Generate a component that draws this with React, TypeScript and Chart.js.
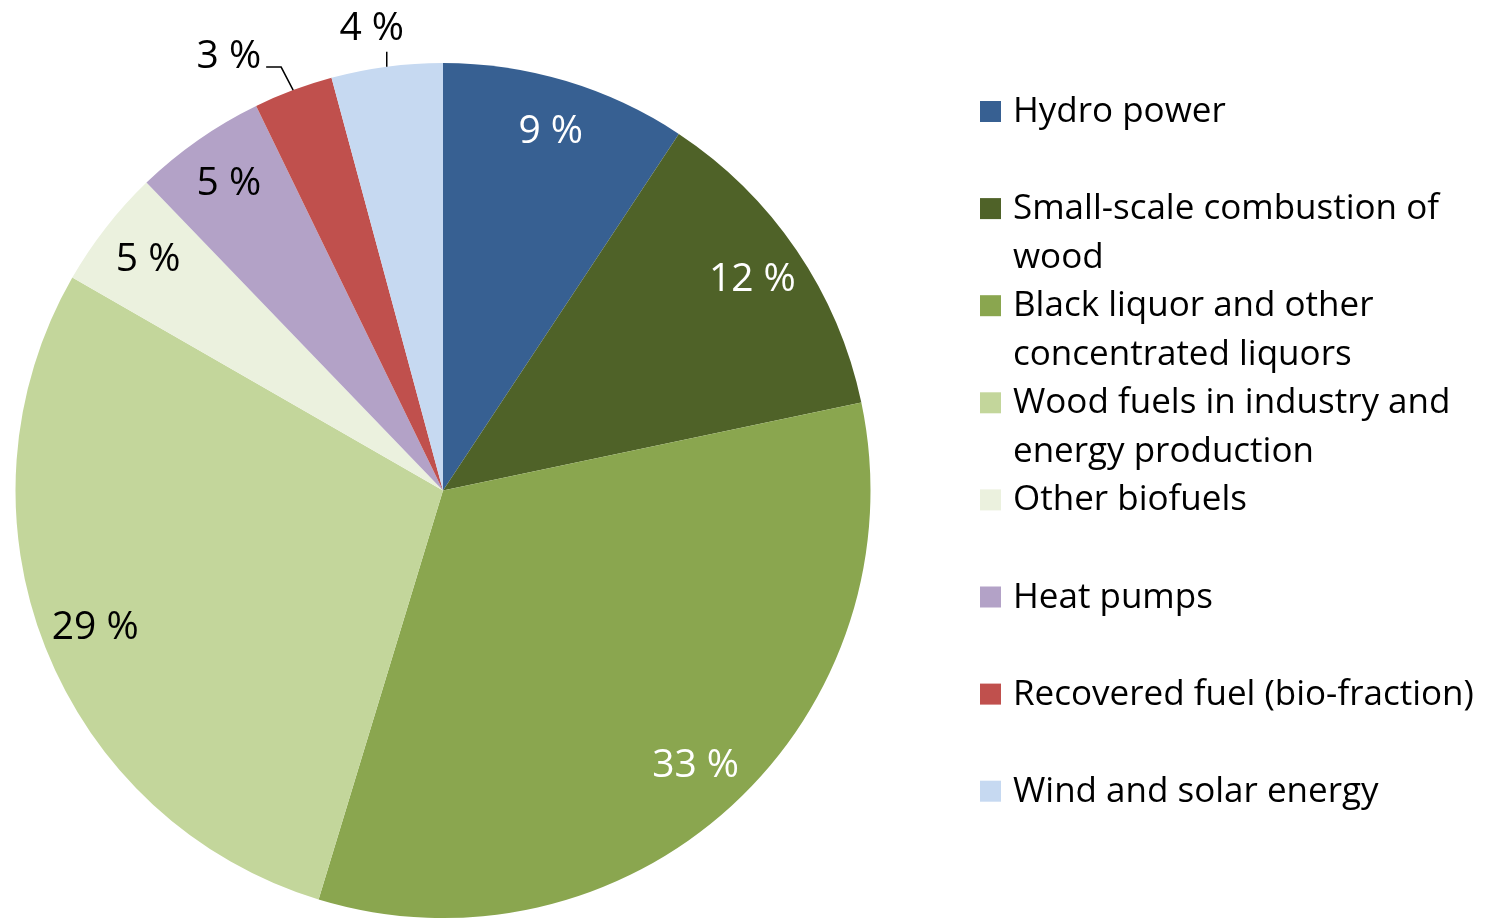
import React, { useEffect, useRef } from "react";
import { Chart, registerables } from "chart.js";

Chart.register(...registerables);

const categories: string[][] = [
  ["Hydro power"],
  ["Small-scale combustion of", "wood"],
  ["Black liquor and other", "concentrated liquors"],
  ["Wood fuels in industry and", "energy production"],
  ["Other biofuels"],
  ["Heat pumps"],
  ["Recovered fuel (bio-fraction)"],
  ["Wind and solar energy"],
];

const shares: number[] = [9.3, 12.4, 33.0, 28.6, 4.5, 5.0, 3.0, 4.2];

const sliceColors: string[] = [
  "#376092",
  "#4F6228",
  "#8AA64F",
  "#C3D69B",
  "#EBF1DE",
  "#B3A2C7",
  "#C0504D",
  "#C6D9F1",
];

const labelColors: string[] = ["#FFFFFF", "#FFFFFF", "#FFFFFF", "#000000", "#000000", "#000000", "#000000", "#000000"];

// Outside label styling (offsets relative to the arc's outer edge point)
const outsideLabels: Record<number, { elbow: [number, number]; end: [number, number]; text: [number, number]; align: CanvasTextAlign }> = {
  6: { elbow: [-12, -23], end: [-27, -23], text: [-32, -22], align: "right" },
  7: { elbow: [0, -15], end: [0, -15], text: [-15, -27], align: "center" },
};

const FONT = "'Open Sans', Lato, sans-serif";

const labelPlugin = {
  id: "sliceLabels",
  afterDatasetsDraw(chart: any) {
    const ctx = chart.ctx as CanvasRenderingContext2D;
    const meta = chart.getDatasetMeta(0);
    ctx.save();
    ctx.font = `39px ${FONT}`;
    meta.data.forEach((arc: any, i: number) => {
      const { x, y, startAngle, endAngle, outerRadius } = arc.getProps(
        ["x", "y", "startAngle", "endAngle", "outerRadius"],
        true
      );
      const mid = (startAngle + endAngle) / 2;
      const text = `${Math.round(shares[i])} %`;
      const out = outsideLabels[i];
      if (out) {
        const ex = x + Math.cos(mid) * outerRadius;
        const ey = y + Math.sin(mid) * outerRadius;
        ctx.strokeStyle = "#000000";
        ctx.lineWidth = 1.5;
        ctx.beginPath();
        ctx.moveTo(ex, ey);
        ctx.lineTo(ex + out.elbow[0], ey + out.elbow[1]);
        ctx.lineTo(ex + out.end[0], ey + out.end[1]);
        ctx.stroke();
        ctx.fillStyle = labelColors[i];
        ctx.textAlign = out.align;
        ctx.textBaseline = "alphabetic";
        ctx.fillText(text, ex + out.text[0], ey + out.text[1]);
      } else {
        const r = outerRadius * 0.875;
        ctx.fillStyle = labelColors[i];
        ctx.textAlign = "center";
        ctx.textBaseline = "middle";
        ctx.fillText(text, x + Math.cos(mid) * r, y + Math.sin(mid) * r);
      }
    });
    ctx.restore();
  },
};

const legendPlugin = {
  id: "sideLegend",
  afterDraw(chart: any) {
    const ctx = chart.ctx as CanvasRenderingContext2D;
    const area = chart.chartArea;
    const left = area.right + 109;
    const firstBaseline = 122;
    const step = 97.1;
    const lineH = 48.5;
    const box = 21;
    ctx.save();
    ctx.font = `35px ${FONT}`;
    ctx.textAlign = "left";
    ctx.textBaseline = "alphabetic";
    categories.forEach((lines, i) => {
      const base = firstBaseline + step * i;
      ctx.fillStyle = sliceColors[i];
      ctx.fillRect(left, base - box, box, box);
      ctx.fillStyle = "#000000";
      lines.forEach((ln, j) => {
        ctx.fillText(ln, left + 33, base + j * lineH);
      });
    });
    ctx.restore();
  },
};

export default function App() {
  const canvasRef = useRef<HTMLCanvasElement | null>(null);

  useEffect(() => {
    if (!canvasRef.current) return;
    const chart = new Chart(canvasRef.current, {
      type: "pie",
      data: {
        labels: categories.map((c) => c.join(" ")),
        datasets: [
          {
            data: shares,
            backgroundColor: sliceColors,
            borderWidth: 0,
            hoverOffset: 0,
            offset: 0,
          },
        ],
      },
      options: {
        responsive: false,
        animation: false,
        devicePixelRatio: 1,
        layout: { padding: { left: 15, top: 63, right: 617, bottom: 1 } },
        plugins: {
          legend: { display: false },
          tooltip: { enabled: false },
        },
      },
      plugins: [labelPlugin, legendPlugin],
    });
    return () => chart.destroy();
  }, []);

  return (
    <div style={{ position: "absolute", left: 0, top: 0, width: 1488, height: 919, background: "#ffffff" }}>
      <canvas ref={canvasRef} width={1488} height={919} />
    </div>
  );
}
